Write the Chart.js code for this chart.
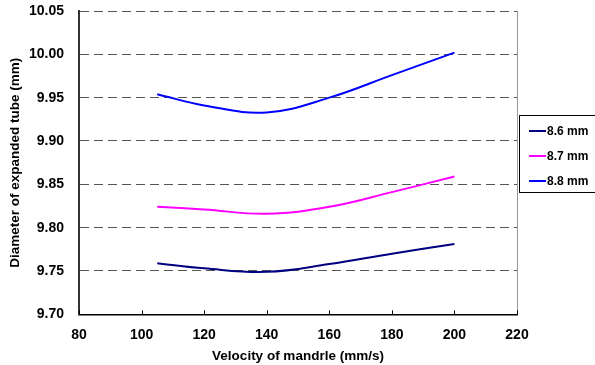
<!DOCTYPE html>
<html>
<head>
<meta charset="utf-8">
<script src="https://cdn.jsdelivr.net/npm/chart.js@4/dist/chart.umd.min.js"></script>
<style>
  html, body { margin: 0; padding: 0; background: #fff; }
  #wrap { width: 595px; height: 365px; position: relative; }
</style>
</head>
<body>
<div id="wrap"><canvas id="c" width="595" height="365"></canvas></div>
<script>
const velocities = [105, 120, 140, 160, 180, 200];
const d86 = [9.759, 9.753, 9.749, 9.758, 9.770, 9.781];
const d87 = [9.824, 9.821, 9.816, 9.824, 9.841, 9.859];
const d88 = [9.954, 9.941, 9.933, 9.950, 9.976, 10.002];
const seriesLabels = ['8.6 mm', '8.7 mm', '8.8 mm'];
const seriesColors = ['#000080', '#FF00FF', '#0000FF'];
const yTicks = [9.70, 9.75, 9.80, 9.85, 9.90, 9.95, 10.00, 10.05];
const xTicks = [80, 100, 120, 140, 160, 180, 200, 220];

const FONT = '"Liberation Sans", Arial, sans-serif';

function pts(ys) { return velocities.map((v, i) => ({ x: v, y: ys[i] })); }

const extras = {
  id: 'extras',
  afterDraw(chart) {
    const ctx = chart.ctx;
    const a = chart.chartArea;
    const xs = chart.scales.x;
    ctx.save();
    // right border
    ctx.strokeStyle = '#999';
    ctx.lineWidth = 1;
    ctx.beginPath();
    ctx.moveTo(Math.round(a.right) + 0.5, a.top);
    ctx.lineTo(Math.round(a.right) + 0.5, a.bottom);
    ctx.stroke();
    // inward x ticks
    ctx.strokeStyle = '#000';
    ctx.lineWidth = 1;
    xTicks.forEach(t => {
      const px = Math.round(xs.getPixelForValue(t)) + 0.5;
      ctx.beginPath();
      ctx.moveTo(px, a.bottom);
      ctx.lineTo(px, a.bottom - 4);
      ctx.stroke();
    });
    // legend
    const bx = 519.5, by = 115.5, bw = 80, bh = 77;
    ctx.strokeStyle = '#000';
    ctx.lineWidth = 1;
    ctx.strokeRect(bx, by, bw, bh);
    ctx.font = 'bold 12px ' + FONT;
    ctx.textBaseline = 'middle';
    ctx.textAlign = 'left';
    const rows = [131, 156, 181];
    chart.data.datasets.forEach((ds, i) => {
      ctx.strokeStyle = ds.borderColor;
      ctx.lineWidth = 2;
      ctx.beginPath();
      ctx.moveTo(529, rows[i]);
      ctx.lineTo(546, rows[i]);
      ctx.stroke();
      ctx.fillStyle = '#000';
      ctx.fillText(ds.label, 547, rows[i] + 0.5);
    });
    ctx.restore();
  }
};

new Chart(document.getElementById('c'), {
  type: 'line',
  data: {
    datasets: [
      { label: seriesLabels[0], data: pts(d86), borderColor: seriesColors[0] },
      { label: seriesLabels[1], data: pts(d87), borderColor: seriesColors[1] },
      { label: seriesLabels[2], data: pts(d88), borderColor: seriesColors[2] }
    ]
  },
  options: {
    responsive: false,
    animation: false,
    devicePixelRatio: 1,
    layout: { padding: { top: 0, right: 78, bottom: 0, left: 0 } },
    elements: {
      line: { borderWidth: 2, tension: 0.4, fill: false },
      point: { radius: 0 }
    },
    plugins: { legend: { display: false }, tooltip: { enabled: false } },
    scales: {
      x: {
        type: 'linear',
        min: 80, max: 220,
        afterBuildTicks: s => { s.ticks = xTicks.map(v => ({ value: v })); },
        afterFit: s => { s.height = 50.7; },
        grid: { display: false, drawTicks: false },
        border: { display: true, color: '#000', width: 1.5 },
        ticks: {
          color: '#000', padding: 12,
          font: { family: FONT, size: 14, weight: 'bold' },
          maxRotation: 0
        },
        title: {
          display: true, text: 'Velocity of mandrle (mm/s)', color: '#000',
          font: { family: FONT, size: 13.5, weight: 'bold' },
          padding: { top: 0, bottom: 1 }
        }
      },
      y: {
        type: 'linear',
        min: 9.70, max: 10.05,
        afterBuildTicks: s => { s.ticks = yTicks.map(v => ({ value: v })); },
        afterFit: s => { s.width = 79; s.paddingTop = 11; s.paddingBottom = 0; },
        grid: {
          drawTicks: false,
          color: c => (c.tick && Math.abs(c.tick.value - 9.70) < 1e-6) ? 'rgba(0,0,0,0)' : '#555',
          lineWidth: 1
        },
        border: { display: true, color: '#333', width: 2, dash: [9, 5] },
        ticks: {
          color: '#000', padding: 15,
          font: { family: FONT, size: 14, weight: 'bold' },
          callback: v => Number(v).toFixed(2)
        },
        title: {
          display: true, text: 'Diameter of expanded tube (mm)', color: '#000',
          font: { family: FONT, size: 13.5, weight: 'bold' },
          padding: { top: 7, bottom: 0 }
        }
      }
    }
  },
  plugins: [extras]
});
</script>
</body>
</html>
